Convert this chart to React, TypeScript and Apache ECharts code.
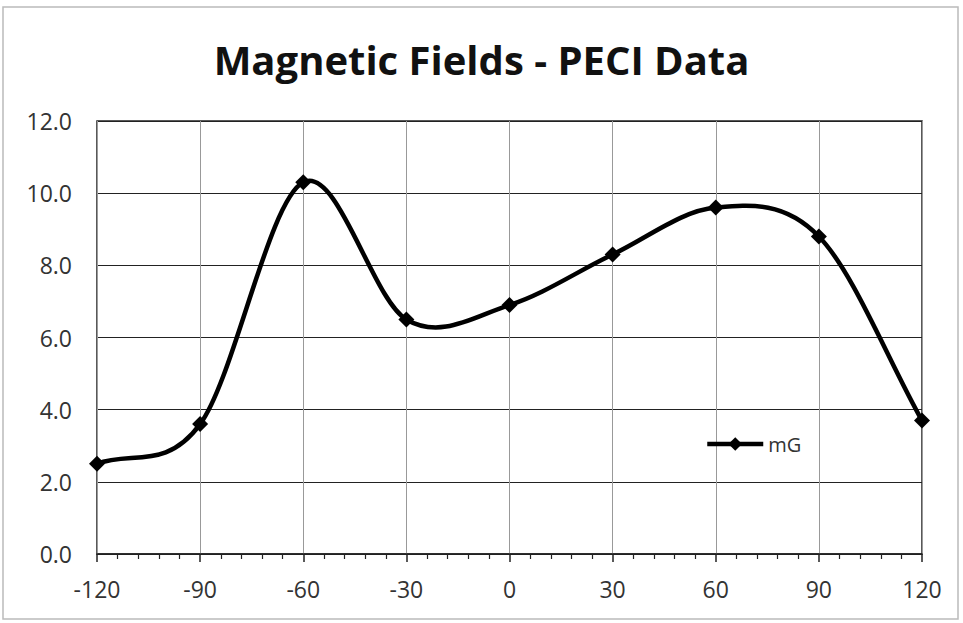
import React, { useEffect, useRef } from "react";
import * as echarts from "echarts";

const angles = [-120, -90, -60, -30, 0, 30, 60, 90, 120];
const mG = [2.5, 3.6, 10.3, 6.5, 6.9, 8.3, 9.6, 8.8, 3.7];
const titleText = "Magnetic Fields - PECI Data";
const seriesName = "mG";

function smoothPath(pts: number[][]): string {
  const n = pts.length;
  let d = `M${pts[0][0]},${pts[0][1]}`;
  for (let i = 0; i < n - 1; i++) {
    const p0 = pts[i];
    const p1 = pts[i + 1];
    let c1x: number, c1y: number, c2x: number, c2y: number;
    if (i === 0) {
      c1x = p0[0] + (p1[0] - p0[0]) / 3;
      c1y = p0[1] + (p1[1] - p0[1]) / 3;
    } else {
      const pm = pts[i - 1];
      c1x = p0[0] + (p1[0] - pm[0]) / 6;
      c1y = p0[1] + (p1[1] - pm[1]) / 6;
    }
    if (i + 2 >= n) {
      c2x = p1[0] - (p1[0] - p0[0]) / 3;
      c2y = p1[1] - (p1[1] - p0[1]) / 3;
    } else {
      const p2 = pts[i + 2];
      c2x = p1[0] - (p2[0] - p0[0]) / 6;
      c2y = p1[1] - (p2[1] - p0[1]) / 6;
    }
    d += ` C${c1x},${c1y} ${c2x},${c2y} ${p1[0]},${p1[1]}`;
  }
  return d;
}

export default function App() {
  const ref = useRef<HTMLDivElement>(null);
  useEffect(() => {
    if (!ref.current) return;
    const chart = echarts.init(ref.current, null, { renderer: "svg" });
    const font = "'Open Sans', 'Noto Sans', sans-serif";
    const points = angles.map((a, i) => [a, mG[i]]);
    chart.setOption({
      animation: false,
      backgroundColor: "#fff",
      textStyle: { fontFamily: font },
      title: {
        text: titleText,
        left: "center",
        top: 34,
        textStyle: { fontSize: 40, fontWeight: "bold", color: "#111", fontFamily: font },
      },
      graphic: [
        {
          type: "rect",
          shape: { x: 3, y: 7, width: 955, height: 612 },
          style: { fill: "none", stroke: "#bbb", lineWidth: 1.5 },
          silent: true,
        },
      ],
      legend: {
        left: 700,
        top: 429,
        itemWidth: 56,
        itemHeight: 17,
        itemGap: 4,
        textStyle: { fontSize: 20, color: "#333", fontFamily: font },
        lineStyle: { color: "#000", width: 4.5, opacity: 1 },
        data: [seriesName],
      },
      grid: {
        left: 97,
        right: 41,
        top: 121,
        bottom: 69,
        show: true,
        borderColor: "#222",
        borderWidth: 1.5,
      },
      xAxis: {
        type: "value",
        min: -120,
        max: 120,
        interval: 30,
        axisLine: { show: true, onZero: false, lineStyle: { color: "#222", width: 1.5 } },
        axisTick: { show: true, inside: false, length: 8, lineStyle: { color: "#222", width: 1.5 } },
        minorTick: { show: true, splitNumber: 5, length: 5, lineStyle: { color: "#222", width: 1.2 } },
        splitLine: { show: true, lineStyle: { color: "#999", width: 1 } },
        axisLabel: { fontSize: 23, color: "#333", margin: 23, fontFamily: font },
      },
      yAxis: {
        type: "value",
        min: 0,
        max: 12,
        interval: 2,
        axisLine: { show: false, onZero: false },
        axisTick: { show: false },
        splitLine: { show: true, lineStyle: { color: "#222", width: 1.2 } },
        axisLabel: {
          fontSize: 23,
          color: "#333",
          margin: 25,
          fontFamily: font,
          formatter: (v: number) => v.toFixed(1),
        },
      },
      series: [
        {
          name: "curve",
          type: "custom",
          data: points,
          encode: { x: 0, y: 1 },
          silent: true,
          renderItem: (params: any, api: any) => {
            if (params.dataIndex !== 0) return null;
            const px = angles.map((a, i) => api.coord([a, mG[i]]));
            return {
              type: "path",
              shape: { pathData: smoothPath(px) },
              style: { fill: "none", stroke: "#000", lineWidth: 4.5 },
            };
          },
        },
        {
          name: seriesName,
          type: "line",
          data: points,
          symbol: "diamond",
          symbolSize: 16,
          lineStyle: { color: "#000", width: 4, opacity: 0 },
          itemStyle: { color: "#000" },
        },
      ],
    });
    return () => chart.dispose();
  }, []);
  return <div ref={ref} style={{ width: 963, height: 623, position: "absolute", left: 0, top: 0 }} />;
}
